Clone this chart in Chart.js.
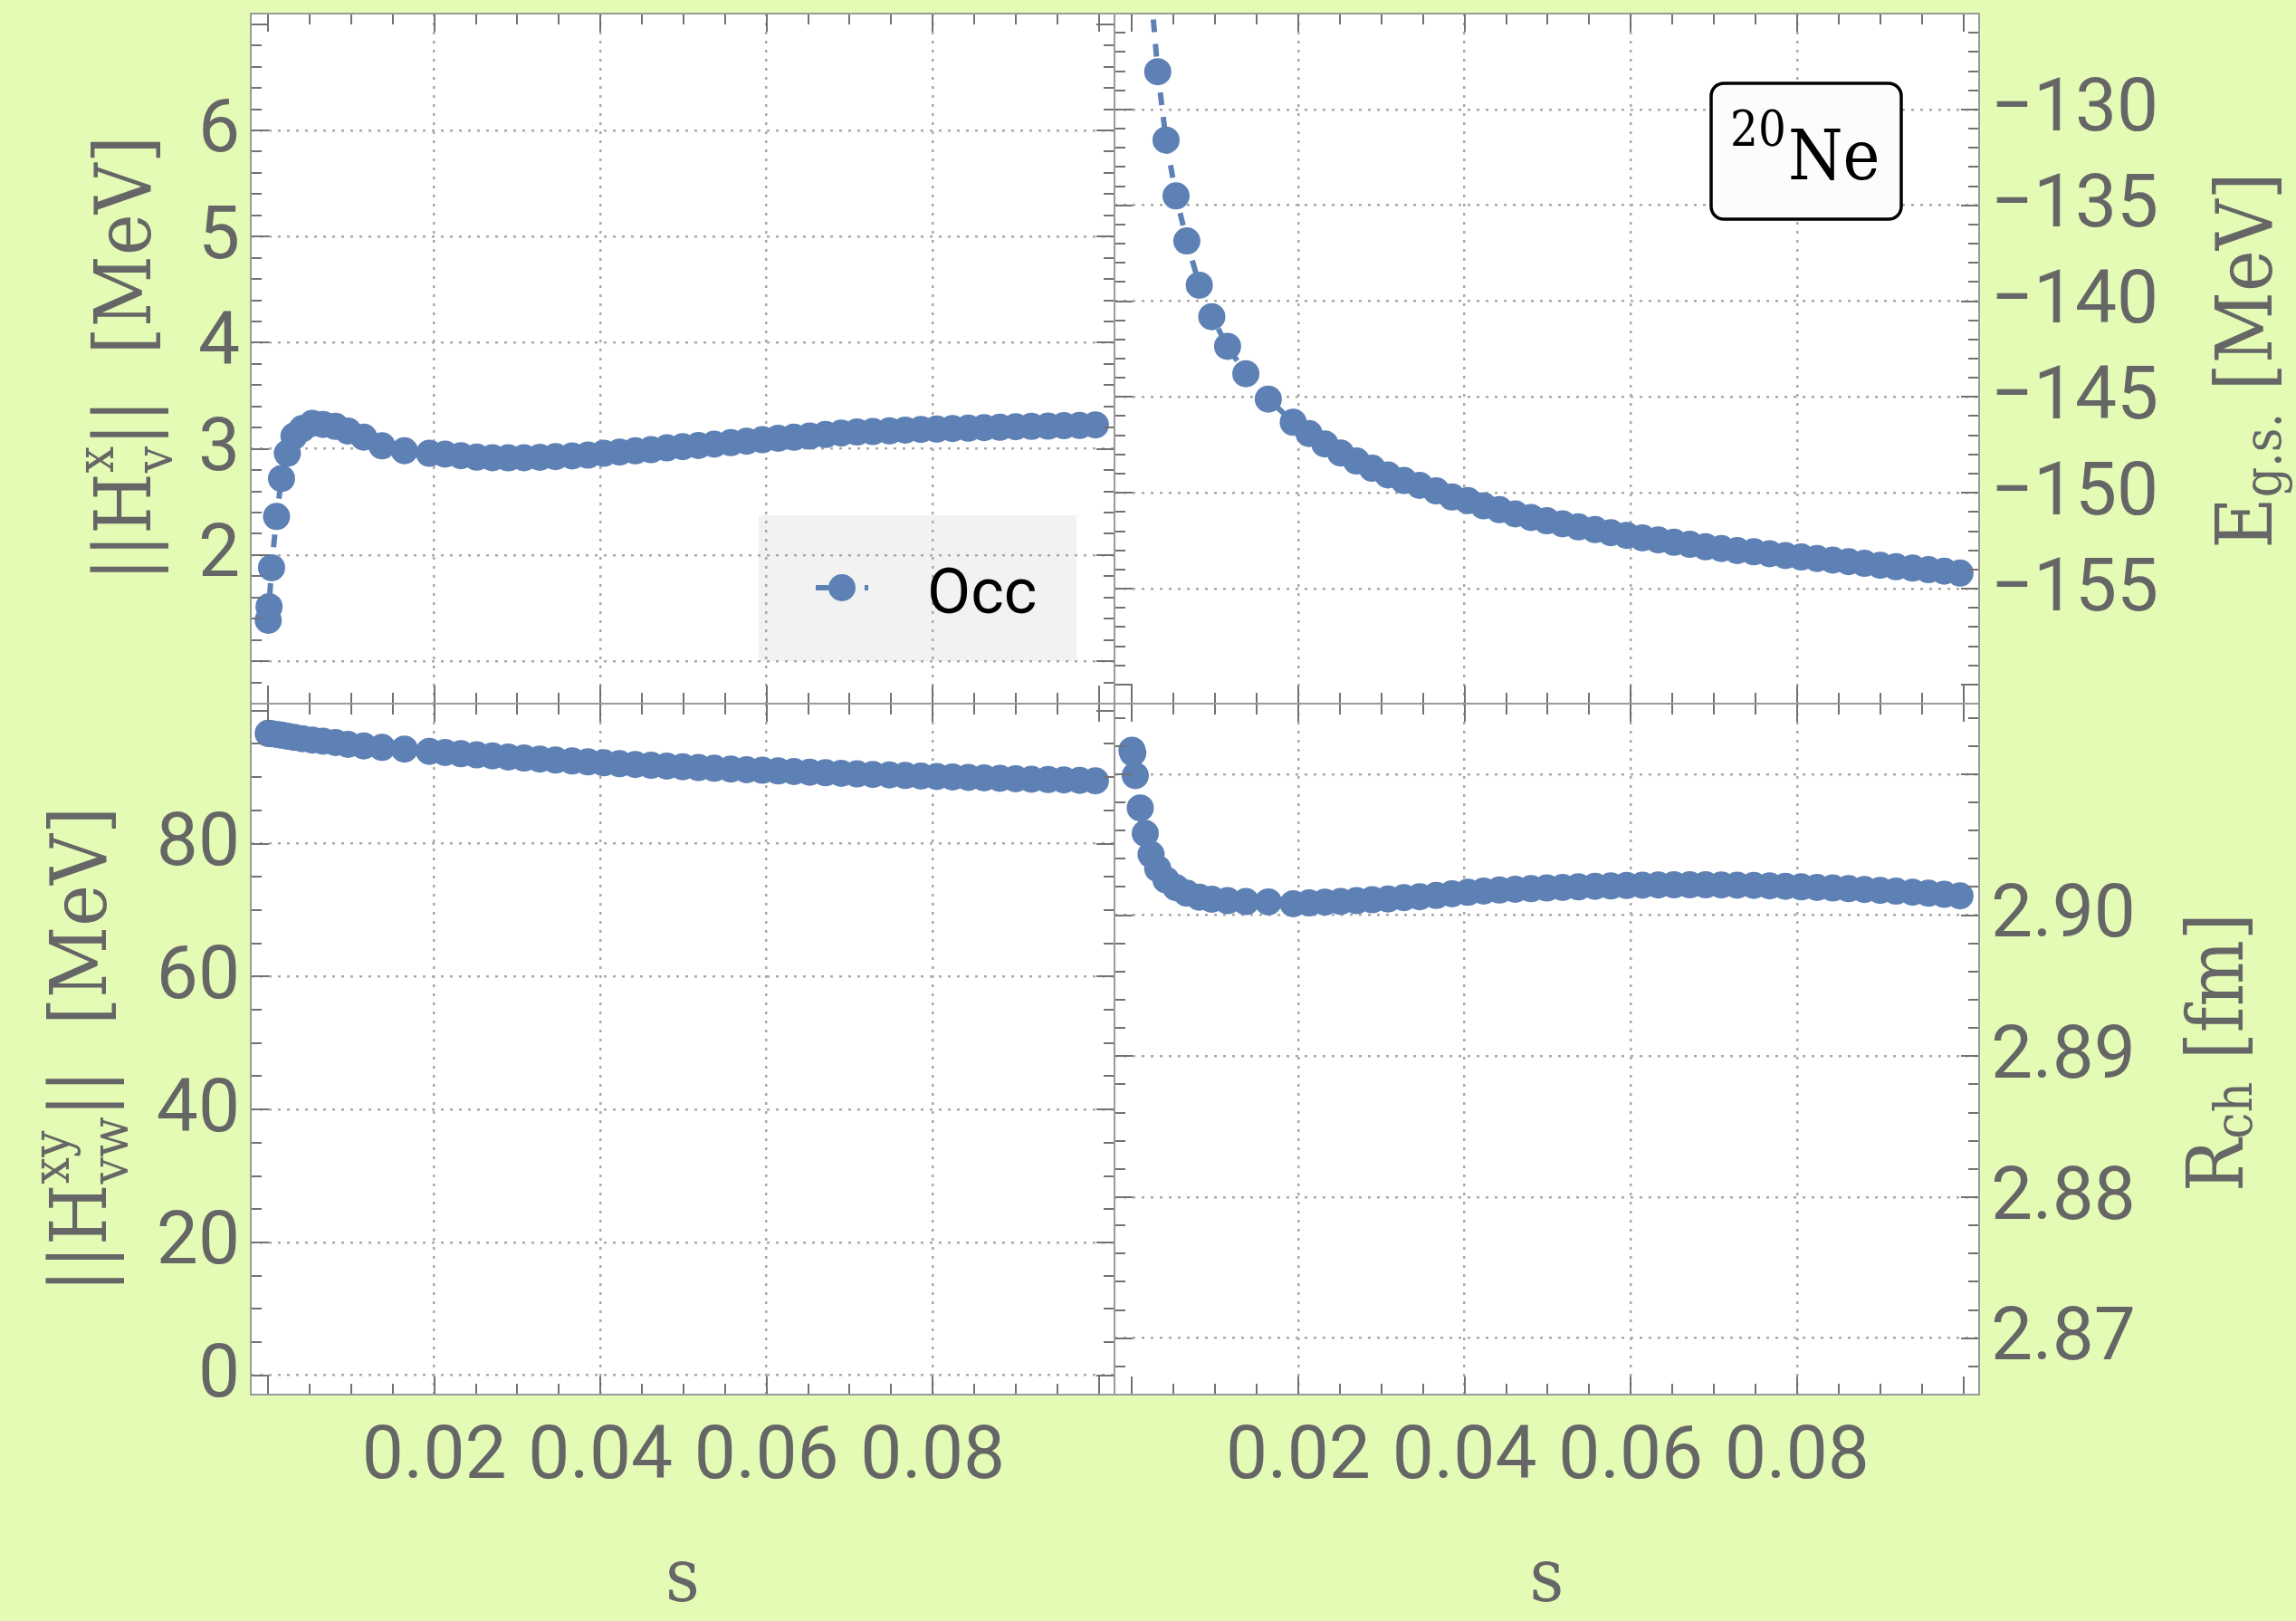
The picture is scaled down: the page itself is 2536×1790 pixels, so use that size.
<!DOCTYPE html>
<html>
<head>
<meta charset="utf-8">
<title>20Ne flow: Occ reference</title>
<script src="https://cdn.jsdelivr.net/npm/chart.js@4.4.1/dist/chart.umd.min.js"></script>
<style>
  html, body { margin: 0; padding: 0; background: #e4fbb6; }
  #wrap { position: relative; width: 2536px; height: 1790px; overflow: hidden; }
  #wrap canvas { position: absolute; left: 0; top: 0; }
</style>
</head>
<body>
<div id="wrap">
  <canvas id="pHv" width="2536" height="1790"></canvas>
  <canvas id="pEgs" width="2536" height="1790"></canvas>
  <canvas id="pHvw" width="2536" height="1790"></canvas>
  <canvas id="pRch" width="2536" height="1790"></canvas>
</div>
<script>
// ---- flow parameter s ----
const s = [
  0, 0.0001, 0.0004, 0.0010, 0.0016, 0.0023, 0.0031, 0.0041, 0.0053, 0.0066, 0.0081, 0.0096, 0.0115, 0.0137, 0.0164,
  0.0194, 0.0213, 0.0232, 0.0251, 0.0270, 0.0289, 0.0308, 0.0327, 0.0346, 0.0366,
  0.0385, 0.0404, 0.0423, 0.0442, 0.0461, 0.0480, 0.0499, 0.0518, 0.0537, 0.0557,
  0.0576, 0.0595, 0.0614, 0.0633, 0.0652, 0.0671, 0.0690, 0.0709, 0.0728, 0.0748,
  0.0767, 0.0786, 0.0805, 0.0824, 0.0843, 0.0862, 0.0881, 0.0900, 0.0919, 0.0939,
  0.0958, 0.0977, 0.0996
];

// ||H_v^x|| [MeV]
const occHv = [
  1.385, 1.513, 1.880, 2.363, 2.720, 2.958, 3.120, 3.190, 3.240, 3.230, 3.212, 3.168, 3.110, 3.028, 2.982,
  2.958, 2.950, 2.936, 2.922, 2.916, 2.915, 2.916, 2.921, 2.927, 2.934,
  2.941, 2.958, 2.970, 2.981, 2.992, 3.009, 3.021, 3.032, 3.044, 3.058,
  3.072, 3.086, 3.100, 3.109, 3.120, 3.135, 3.149, 3.158, 3.163, 3.169,
  3.177, 3.183, 3.186, 3.192, 3.195, 3.200, 3.203, 3.209, 3.212, 3.214,
  3.218, 3.220, 3.226
];

// E_g.s. [MeV]
const occEgs = [
  -96.0, -99.5, -106.0, -113.8, -119.6, -123.9, -128.03, -131.60, -134.51, -136.86, -139.17, -140.81, -142.36, -143.79, -145.11,
  -146.32, -146.91, -147.45, -147.92, -148.34, -148.72, -149.07, -149.36, -149.61, -149.90,
  -150.22, -150.41, -150.68, -150.88, -151.10, -151.29, -151.46, -151.62, -151.78, -151.92,
  -152.08, -152.22, -152.35, -152.46, -152.58, -152.69, -152.82, -152.91, -153.01, -153.08,
  -153.18, -153.27, -153.35, -153.43, -153.51, -153.59, -153.68, -153.78, -153.86, -153.93,
  -154.01, -154.09, -154.19
];

// ||H_vw^xy|| [MeV]
const occHvw = [
  96.58, 96.56, 96.52, 96.42, 96.30, 96.15, 95.98, 95.78, 95.58, 95.40, 95.20, 94.92, 94.68, 94.46, 94.22,
  93.88, 93.70, 93.52, 93.35, 93.18, 93.02, 92.86, 92.71, 92.56, 92.42,
  92.28, 92.15, 92.02, 91.90, 91.78, 91.66, 91.55, 91.44, 91.33, 91.22,
  91.12, 91.02, 90.92, 90.83, 90.74, 90.65, 90.56, 90.48, 90.40, 90.32,
  90.24, 90.16, 90.09, 90.02, 89.95, 89.88, 89.81, 89.75, 89.69, 89.63,
  89.57, 89.51, 89.45
];

// R_ch [fm]
const occRch = [
  2.9117, 2.9115, 2.9099, 2.9076, 2.9058, 2.9043, 2.9033, 2.9025, 2.90195, 2.90156, 2.90128, 2.90113, 2.90103, 2.90096, 2.90094,
  2.90081, 2.90087, 2.90092, 2.90097, 2.90103, 2.90109, 2.90115, 2.90124, 2.90131, 2.90140,
  2.90152, 2.90162, 2.90171, 2.90178, 2.90184, 2.90188, 2.90193, 2.90197, 2.90201, 2.90205,
  2.90207, 2.90210, 2.90213, 2.90214, 2.90215, 2.90215, 2.90215, 2.90214, 2.90213, 2.90211,
  2.90208, 2.90205, 2.90201, 2.90197, 2.90193, 2.90188, 2.90182, 2.90176, 2.90170, 2.90163,
  2.90156, 2.90148, 2.90137
];

// ---- tick values and labels ----
const sTicks = [0.02, 0.04, 0.06, 0.08];
const sTickLabels = ['0.02', '0.04', '0.06', '0.08'];
const sFrameMajors = [0, 0.02, 0.04, 0.06, 0.08, 0.1];

const hvTicks = [1, 2, 3, 4, 5, 6];
const hvTickLabels = ['', '2', '3', '4', '5', '6'];
const hvFrameMajors = [1, 2, 3, 4, 5, 6, 7];

const egsTicks = [-155, -150, -145, -140, -135, -130];
const egsTickLabels = ['\u2212155', '\u2212150', '\u2212145', '\u2212140', '\u2212135', '\u2212130'];
const egsFrameMajors = [-160, -155, -150, -145, -140, -135, -130, -125];

const hvwTicks = [0, 20, 40, 60, 80];
const hvwTickLabels = ['0', '20', '40', '60', '80'];
const hvwFrameMajors = [0, 20, 40, 60, 80, 100];

const rchTicks = [2.87, 2.88, 2.89, 2.90, 2.91];
const rchTickLabels = ['2.87', '2.88', '2.89', '2.90', ''];
const rchFrameMajors = [2.87, 2.88, 2.89, 2.90, 2.91];

// ---- styling ----
const BLUE = '#5e81b5';
const GRAY_TEXT = '#666666';
const TICK_FONT = 'Roboto';
const SERIF = '"DejaVu Serif Condensed", "DejaVu Serif", serif';
const PAGE_W = 2536, PAGE_H = 1790;

function drawRich(ctx, spec) {
  const size = spec.size;
  const main = size + 'px ' + SERIF;
  const small = Math.round(size * 0.68) + 'px ' + SERIF;
  const widths = spec.segs.map(sg => {
    if (sg.t !== undefined) { ctx.font = main; return ctx.measureText(sg.t).width; }
    ctx.font = small;
    return Math.max(sg.sub ? ctx.measureText(sg.sub).width : 0, sg.sup ? ctx.measureText(sg.sup).width : 0);
  });
  const total = widths.reduce((a, b) => a + b, 0);
  ctx.save();
  ctx.translate(spec.x, spec.y);
  ctx.rotate(-Math.PI / 2);
  ctx.fillStyle = GRAY_TEXT;
  ctx.textAlign = 'left';
  ctx.textBaseline = 'alphabetic';
  let cx = -total / 2;
  spec.segs.forEach((sg, i) => {
    if (sg.t !== undefined) {
      ctx.font = main;
      ctx.fillText(sg.t, cx, 0);
    } else {
      ctx.font = small;
      if (sg.sub) ctx.fillText(sg.sub, cx, size * sg.subShift);
      if (sg.sup) ctx.fillText(sg.sup, cx, -size * sg.supShift);
    }
    cx += widths[i];
  });
  ctx.restore();
}

function minorValues(min, max, step, majors) {
  const out = [];
  for (let k = Math.ceil(min / step - 1e-9); k <= Math.floor(max / step + 1e-9); k++) {
    const v = k * step;
    if (!majors.some(m => Math.abs(m - v) < step * 1e-3)) out.push(v);
  }
  return out;
}

// White plot area, inward frame ticks, legend, badge and rich axis titles
const framePlugin = {
  id: 'frame',
  beforeDraw(chart, _args, o) {
    const { ctx, chartArea: a } = chart;
    ctx.save();
    ctx.fillStyle = '#ffffff';
    ctx.fillRect(a.left, a.top, a.width, a.height);
    if (o.legend) {
      const L = o.legend;
      ctx.fillStyle = '#f2f2f2';
      ctx.fillRect(L.x, L.y, L.w, L.h);
    }
    ctx.restore();
  },
  afterDatasetsDraw(chart, _args, o) {
    const { ctx, chartArea: a, scales } = chart;
    const xs = scales.x, ys = scales.y;
    ctx.save();
    ctx.strokeStyle = '#727272';
    ctx.lineWidth = 2;
    const MAJ = 20, MIN = 12;
    const xMaj = o.xMajors.filter(v => v >= xs.min && v <= xs.max);
    const xMin = minorValues(xs.min, xs.max, o.xMinorStep, o.xMajors);
    const yMaj = o.yMajors.filter(v => v >= ys.min && v <= ys.max);
    const yMin = minorValues(ys.min, ys.max, o.yMinorStep, o.yMajors);
    ctx.beginPath();
    const vx = (list, len) => list.forEach(v => {
      const p = Math.round(xs.getPixelForValue(v));
      ctx.moveTo(p, a.top); ctx.lineTo(p, a.top + len);
      ctx.moveTo(p, a.bottom); ctx.lineTo(p, a.bottom - len);
    });
    const vy = (list, len) => list.forEach(v => {
      const p = Math.round(ys.getPixelForValue(v));
      ctx.moveTo(a.left, p); ctx.lineTo(a.left + len, p);
      ctx.moveTo(a.right, p); ctx.lineTo(a.right - len, p);
    });
    vx(xMaj, MAJ); vx(xMin, MIN); vy(yMaj, MAJ); vy(yMin, MIN);
    ctx.stroke();
    ctx.strokeStyle = '#9a9a9a';
    ctx.lineWidth = 2;
    ctx.strokeRect(a.left, a.top, a.width, a.height);

    if (o.legend) {
      const L = o.legend;
      const ds = chart.data.datasets[0];
      ctx.strokeStyle = ds.borderColor;
      ctx.lineWidth = ds.borderWidth;
      ctx.setLineDash(ds.borderDash);
      ctx.beginPath();
      ctx.moveTo(L.lineX0, L.cy); ctx.lineTo(L.lineX1, L.cy);
      ctx.stroke();
      ctx.setLineDash([]);
      ctx.fillStyle = ds.backgroundColor;
      ctx.beginPath();
      ctx.arc(L.cx, L.cy, ds.pointRadius, 0, Math.PI * 2);
      ctx.fill();
      ctx.fillStyle = '#000000';
      ctx.font = L.fontSize + 'px Roboto';
      ctx.textAlign = 'left';
      ctx.textBaseline = 'alphabetic';
      ctx.fillText(ds.label, L.tx, L.ty);
    }
    ctx.restore();
  },
  afterDraw(chart, _args, o) {
    const ctx = chart.ctx;
    if (o.badge) {
      const B = o.badge;
      ctx.save();
      ctx.beginPath();
      ctx.roundRect(B.x, B.y, B.w, B.h, B.r);
      ctx.fillStyle = '#fcfcfc';
      ctx.fill();
      ctx.lineWidth = 3.5;
      ctx.strokeStyle = '#000000';
      ctx.stroke();
      ctx.fillStyle = '#000000';
      ctx.textAlign = 'left';
      ctx.textBaseline = 'alphabetic';
      ctx.font = B.supSize + 'px ' + SERIF;
      ctx.fillText(B.mass, B.supX, B.supY);
      ctx.font = B.size + 'px ' + SERIF;
      ctx.fillText(B.symbol, B.mainX, B.mainY);
      ctx.restore();
    }
    if (o.yTitle) drawRich(ctx, o.yTitle);
  }
};

function fixSize(prop, val) {
  return function (scale) {
    scale[prop] = val;
    scale.paddingLeft = 0; scale.paddingRight = 0;
    scale.paddingTop = 0; scale.paddingBottom = 0;
  };
}

function makePanel(id, cfg) {
  const points = s.map((v, i) => ({ x: v, y: cfg.values[i] }));
  return new Chart(document.getElementById(id), {
    type: 'line',
    data: {
      datasets: [{
        label: 'Occ',
        data: points,
        borderColor: BLUE,
        backgroundColor: BLUE,
        borderWidth: 6,
        borderDash: [14, 13],
        pointRadius: 15,
        pointHoverRadius: 15,
        pointBorderWidth: 0,
        pointBackgroundColor: BLUE,
        tension: 0,
        clip: 0
      }]
    },
    options: {
      responsive: false,
      animation: false,
      devicePixelRatio: 1,
      events: [],
      layout: { padding: cfg.padding },
      plugins: {
        legend: { display: false },
        tooltip: { enabled: false },
        frame: {
          xMajors: sFrameMajors, xMinorStep: 0.005,
          yMajors: cfg.frameMajors, yMinorStep: cfg.minorStep,
          legend: cfg.legend || null,
          badge: cfg.badge || null,
          yTitle: cfg.yTitle
        }
      },
      scales: {
        x: {
          type: 'linear',
          position: 'bottom',
          min: -0.0021,
          max: 0.1019,
          afterBuildTicks: sc => { sc.ticks = sTicks.map(v => ({ value: v })); },
          afterFit: fixSize('height', cfg.showX ? 250 : 0),
          ticks: {
            display: cfg.showX,
            autoSkip: false,
            maxRotation: 0,
            minRotation: 0,
            padding: 22,
            color: GRAY_TEXT,
            font: { family: TICK_FONT, size: 82 },
            callback: (v, i) => sTickLabels[i]
          },
          grid: { color: '#a9a9a9', lineWidth: 2.5, drawTicks: false, borderDash: [3, 7] },
          border: { display: false, dash: [3, 7] },
          title: {
            display: cfg.showX,
            text: 's',
            color: GRAY_TEXT,
            font: { family: SERIF, size: 82, lineHeight: 1 },
            padding: { top: 0, bottom: 2 }
          }
        },
        y: {
          type: 'linear',
          position: cfg.yPos,
          min: cfg.yMin,
          max: cfg.yMax,
          afterBuildTicks: sc => { sc.ticks = cfg.ticks.map(v => ({ value: v })); },
          afterFit: fixSize('width', cfg.yPos === 'left' ? 277 : 350),
          ticks: {
            autoSkip: false,
            padding: cfg.yPos === 'left' ? 12 : 13,
            labelOffset: 3,
            color: GRAY_TEXT,
            font: { family: TICK_FONT, size: 82 },
            callback: (v, i) => cfg.labels[i]
          },
          grid: { color: '#a9a9a9', lineWidth: 2.5, drawTicks: false, borderDash: [3, 7] },
          border: { display: false, dash: [3, 7] }
        }
      }
    },
    plugins: [framePlugin]
  });
}

// top-left: ||H_v^x||
makePanel('pHv', {
  values: occHv, yPos: 'left', yMin: 0.6, yMax: 7.1,
  ticks: hvTicks, labels: hvTickLabels, frameMajors: hvFrameMajors, minorStep: 0.2,
  padding: { left: 0, top: 14, right: PAGE_W - 1231, bottom: PAGE_H - 777 },
  showX: false,
  legend: { x: 838, y: 569, w: 351, h: 161, lineX0: 901, lineX1: 959, cx: 930, cy: 649, tx: 1024, ty: 677, fontSize: 70 },
  yTitle: { x: 166, y: 396, size: 86, segs: [
    { t: '||H' }, { sub: 'v', sup: 'x', subShift: 0.28, supShift: 0.48 }, { t: '||  [MeV]' } ] }
});

// top-right: ground-state energy
makePanel('pEgs', {
  values: occEgs, yPos: 'right', yMin: -161, yMax: -125,
  ticks: egsTicks, labels: egsTickLabels, frameMajors: egsFrameMajors, minorStep: 1,
  padding: { left: 1231, top: 14, right: 0, bottom: PAGE_H - 777 },
  showX: false,
  badge: { x: 1890, y: 92, w: 210, h: 150, r: 14, mass: '20', symbol: 'Ne',
           supSize: 54, supX: 1911, supY: 161, size: 77, mainX: 1975, mainY: 198 },
  yTitle: { x: 2509, y: 398, size: 86, segs: [
    { t: 'E' }, { sub: 'g.s.', subShift: 0.12 }, { t: ' [MeV]' } ] }
});

// bottom-left: ||H_vw^xy||
makePanel('pHvw', {
  values: occHvw, yPos: 'left', yMin: -2.9, yMax: 101.05,
  ticks: hvwTicks, labels: hvwTickLabels, frameMajors: hvwFrameMajors, minorStep: 5,
  padding: { left: 0, top: 777, right: PAGE_W - 1231, bottom: 0 },
  showX: true,
  yTitle: { x: 117, y: 1159, size: 86, segs: [
    { t: '||H' }, { sub: 'vw', sup: 'xy', subShift: 0.28, supShift: 0.48 }, { t: '||  [MeV]' } ] }
});

// bottom-right: charge radius
makePanel('pRch', {
  values: occRch, yPos: 'right', yMin: 2.866, yMax: 2.915,
  ticks: rchTicks, labels: rchTickLabels, frameMajors: rchFrameMajors, minorStep: 0.002,
  padding: { left: 1231, top: 777, right: 0, bottom: 0 },
  showX: true,
  yTitle: { x: 2477, y: 1162, size: 86, segs: [
    { t: 'R' }, { sub: 'ch', subShift: 0.12 }, { t: ' [fm]' } ] }
});
</script>
</body>
</html>
